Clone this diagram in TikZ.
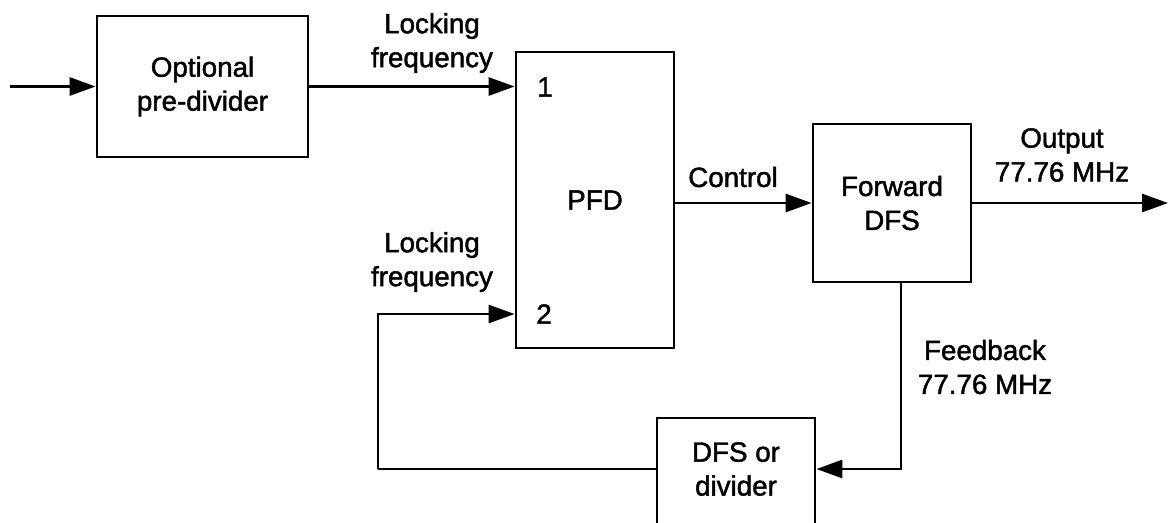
\documentclass[tikz,border=0pt]{standalone}
\usepackage{fontspec}
\setmainfont{Liberation Sans}[FakeBold=1.6]
\usepackage{tikz}
\usetikzlibrary{arrows, arrows.meta}
\tikzstyle{label_text} = [draw=none, align=center, inner sep=0pt, font=\fontsize{15.8}{19.3}\selectfont]
\tikzstyle{process} = [rectangle, draw=black, line width=1.6pt, inner sep=0pt, align=center, font=\fontsize{15.8}{19.3}\selectfont]
\tikzstyle{arrow} = [line width=1.6pt, -{Triangle[length=5.2mm, width=3.6mm]}]
\tikzstyle{line} = [line width=1.6pt]

\begin{document}
\begin{tikzpicture}[x=0.02cm, y=-0.02cm]
		\useasboundingbox (0,0) rectangle (1168,522);
		\clip (0,0) rectangle (1168,522);
		\node (pre_div) [process, minimum width=4.22cm, minimum height=2.82cm] at (202.5,86.5) {Optional\\pre-divider};
		\node (pfd) [process, minimum width=3.16cm, minimum height=5.92cm] at (595,200) {PFD};
		\node (fwd_dfs) [process, minimum width=3.16cm, minimum height=3.16cm] at (892,203) {Forward\\DFS};
		\node (fb_div) [process, minimum width=3.16cm, minimum height=2.84cm] at (736,489) {};
		\node (fb_div_text) [label_text] at (736,469) {DFS or\\divider};
		
		\node (port1) [label_text] at (545,87) {1};
		\node (port2) [label_text] at (544,314) {2};
		\node (lock_top) [label_text] at (432,43) {Locking\\frequency};
		\node (lock_bot) [label_text] at (432,262) {Locking\\frequency};
		\node (ctrl) [label_text] at (733,177) {Control};
		\node (out_lbl) [label_text] at (1062,155) {Output\\77.76 MHz};
		\node (fb_lbl) [label_text] at (985,367) {Feedback\\77.76 MHz};
		
		\coordinate (in_start) at (10,86.5);
		\coordinate (out_end) at (1168,203);
		\coordinate (fb_top) at (901,282);
		\coordinate (loop_left) at (378,469);
		
		\draw [arrow] (in_start) -- (pre_div);
		\draw [arrow] (pre_div.east) -- (pre_div.east -| pfd.west);
		\draw [arrow] (pfd.east |- fwd_dfs) -- (fwd_dfs.west);
		\draw [arrow] (fwd_dfs.east) -- (out_end);
		\draw [arrow] (fb_top) |- (fb_div_text -| fb_div.east);
		\draw [line] (fb_div_text -| fb_div.west) -- (loop_left);
		\draw [arrow] (loop_left) |- (port2 -| pfd.west);
		\end{tikzpicture}
\end{document}
